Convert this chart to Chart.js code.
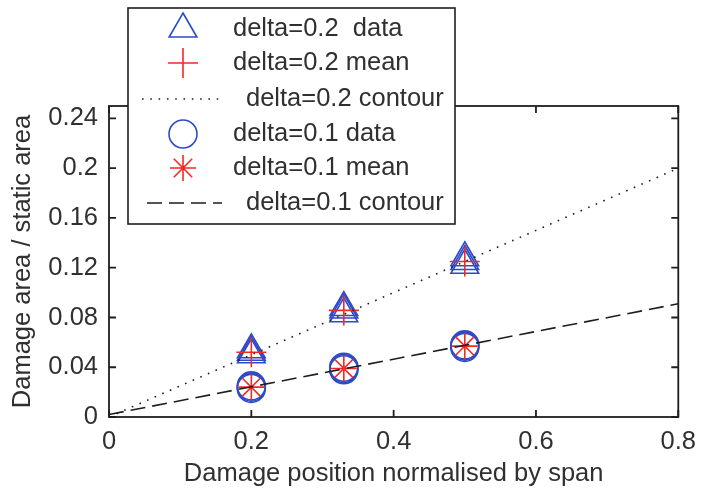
<!DOCTYPE html>
<html>
<head>
<meta charset="utf-8">
<script src="https://cdn.jsdelivr.net/npm/chart.js@4.4.1/dist/chart.umd.min.js"></script>
<style>
  html, body { margin: 0; padding: 0; background: #fff; }
  #damageChart { display: block; }
</style>
</head>
<body>
<canvas id="damageChart" width="706" height="490"></canvas>
<script>
// damage position along the span
const positions = [0.2, 0.33, 0.5];

// delta = 0.2 : three runs and their mean
const d02Run1 = [0.050, 0.083, 0.122];
const d02Run2 = [0.052, 0.086, 0.125];
const d02Run3 = [0.054, 0.088, 0.128];
const d02Mean = [0.052, 0.0857, 0.125];

// delta = 0.1 : three runs and their mean
const d01Run1 = [0.023, 0.038, 0.056];
const d01Run2 = [0.024, 0.039, 0.057];
const d01Run3 = [0.025, 0.040, 0.058];
const d01Mean = [0.024, 0.039, 0.057];

// contour lines (end points)
const contourX = [0, 0.8];
const d02Contour = [0, 0.2];
const d01Contour = [0.002, 0.091];

const xTicks = [0, 0.2, 0.4, 0.6, 0.8];
const yTicks = [0, 0.04, 0.08, 0.12, 0.16, 0.2, 0.24];

const BLUE = 'rgb(45,75,200)';
const RED = 'rgb(245,40,40)';
const INK = '#1e1e1e';
const TEXT = '#303030';
const FONT = "'Liberation Sans', Arial, sans-serif";

function pts(xs, ys) {
    return xs.map((x, i) => ({ x: x, y: ys[i] }));
}

function runsToPoints(runs) {
    let out = [];
    runs.forEach(r => { out = out.concat(pts(positions, r)); });
    return out;
}

const datasets = [
    {
        label: 'delta=0.2  data',
        data: runsToPoints([d02Run1, d02Run2, d02Run3]),
        pointStyle: 'triangle', pointRadius: 16, borderWidth: 1.6,
        borderColor: BLUE, backgroundColor: 'rgba(0,0,0,0)',
        showLine: false, order: 6
    },
    {
        label: 'delta=0.2 mean',
        data: pts(positions, d02Mean),
        pointStyle: 'cross', pointRadius: 15, borderWidth: 1.6,
        borderColor: RED, backgroundColor: 'rgba(0,0,0,0)',
        showLine: false, order: 5
    },
    {
        label: 'delta=0.2 contour',
        data: pts(contourX, d02Contour),
        showLine: true, pointRadius: 0, borderWidth: 1.6,
        borderColor: INK, borderDash: [1.6, 6.7], fill: false, order: 4
    },
    {
        label: 'delta=0.1 data',
        data: runsToPoints([d01Run1, d01Run2, d01Run3]),
        pointStyle: 'circle', pointRadius: 14, borderWidth: 1.6,
        borderColor: BLUE, backgroundColor: 'rgba(0,0,0,0)',
        showLine: false, order: 3
    },
    {
        label: 'delta=0.1 mean',
        data: pts(positions, d01Mean),
        pointStyle: 'star', pointRadius: 13, borderWidth: 1.6,
        borderColor: RED, backgroundColor: 'rgba(0,0,0,0)',
        showLine: false, order: 2
    },
    {
        label: 'delta=0.1 contour',
        data: pts(contourX, d01Contour),
        showLine: true, pointRadius: 0, borderWidth: 1.6,
        borderColor: INK, borderDash: [15, 7], fill: false, order: 1
    }
];

// box round the axes with inward ticks on all four sides
const axesFrame = {
    id: 'axesFrame',
    afterDatasetsDraw(chart) {
        const { ctx, chartArea: a, scales } = chart;
        const tl = 7;
        ctx.save();
        ctx.strokeStyle = INK;
        ctx.lineWidth = 1.8;
        ctx.strokeRect(a.left, a.top, a.right - a.left, a.bottom - a.top);
        ctx.beginPath();
        xTicks.forEach(v => {
            const px = scales.x.getPixelForValue(v);
            ctx.moveTo(px, a.bottom); ctx.lineTo(px, a.bottom - tl);
            ctx.moveTo(px, a.top); ctx.lineTo(px, a.top + tl);
        });
        yTicks.forEach(v => {
            const py = scales.y.getPixelForValue(v);
            ctx.moveTo(a.left, py); ctx.lineTo(a.left + tl, py);
            ctx.moveTo(a.right, py); ctx.lineTo(a.right - tl, py);
        });
        ctx.stroke();
        ctx.restore();
    }
};

// legend box sitting over the upper left of the axes
const legendBox = {
    id: 'legendBox',
    afterDraw(chart) {
        const ctx = chart.ctx;
        const box = { x: 128, y: 8, w: 327, h: 216 };
        const rowY = [29, 63, 99, 134, 168, 203];
        const symX = 183;
        ctx.save();
        ctx.fillStyle = '#fff';
        ctx.fillRect(box.x, box.y, box.w, box.h);
        ctx.strokeStyle = INK;
        ctx.lineWidth = 1.6;
        ctx.strokeRect(box.x, box.y, box.w, box.h);

        ctx.font = '25.5px ' + FONT;
        ctx.textBaseline = 'middle';
        chart.data.datasets.forEach((ds, i) => {
            const y = rowY[i];
            ctx.strokeStyle = ds.borderColor;
            ctx.fillStyle = 'rgba(0,0,0,0)';
            ctx.lineWidth = ds.borderWidth;
            if (ds.showLine) {
                ctx.save();
                ctx.setLineDash(ds.borderDash || []);
                ctx.beginPath();
                ctx.moveTo(i === 2 ? 142 : 147, y);
                ctx.lineTo(222, y);
                ctx.stroke();
                ctx.restore();
            } else {
                Chart.helpers.drawPoint(ctx, {
                    pointStyle: ds.pointStyle,
                    radius: ds.pointRadius,
                    borderWidth: ds.borderWidth,
                    rotation: 0
                }, symX, y);
            }
            ctx.fillStyle = TEXT;
            ctx.fillText(ds.label, ds.showLine ? 246 : 233, y);
        });
        ctx.restore();
    }
};

Chart.defaults.font.family = FONT;
Chart.defaults.color = TEXT;

const ctx = document.getElementById('damageChart').getContext('2d');
const damageChart = new Chart(ctx, {
    type: 'scatter',
    data: { datasets: datasets },
    options: {
        responsive: false,
        animation: false,
        devicePixelRatio: 1,
        layout: { padding: { top: 106, right: 18, left: 0, bottom: 0 } },
        plugins: {
            legend: { display: false },
            tooltip: { enabled: false }
        },
        scales: {
            x: {
                type: 'linear', min: 0, max: 0.8,
                grid: { display: false, drawTicks: false },
                border: { display: false },
                ticks: {
                    stepSize: 0.2, padding: 10,
                    font: { size: 25.5 },
                    callback: v => String(+v.toFixed(2))
                },
                title: {
                    display: true,
                    text: 'Damage position normalised by span',
                    font: { size: 25.5 },
                    padding: { top: 0, bottom: 1 }
                },
                afterFit: s => { s.height = 73; }
            },
            y: {
                type: 'linear', min: 0, max: 0.25,
                grid: { display: false, drawTicks: false },
                border: { display: false },
                ticks: {
                    stepSize: 0.04, padding: 11, includeBounds: false,
                    font: { size: 25.5 },
                    callback: v => String(+v.toFixed(2))
                },
                title: {
                    display: true,
                    text: 'Damage area / static area',
                    font: { size: 25.5 },
                    padding: { top: 8, bottom: 0 }
                },
                afterFit: s => { s.width = 109; }
            }
        }
    },
    plugins: [axesFrame, legendBox]
});
</script>
</body>
</html>
